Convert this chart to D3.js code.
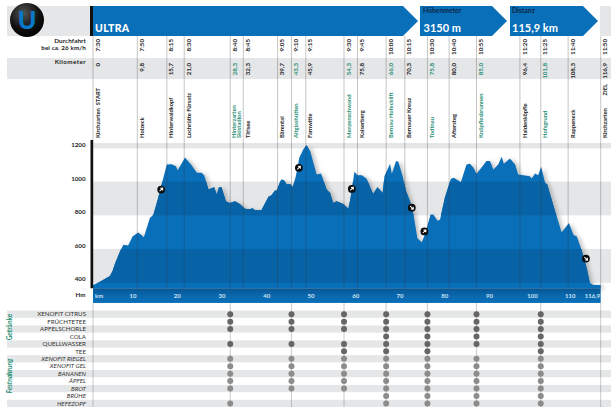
<!DOCTYPE html>
<html lang="de">
<head>
<meta charset="utf-8">
<title>Ultra Streckenprofil</title>
<script src="https://cdnjs.cloudflare.com/ajax/libs/d3/7.8.5/d3.min.js"></script>
<style>
  html,body{margin:0;padding:0;background:#fff}
  svg{display:block}
  text{font-family:Lato,"Open Sans",sans-serif;fill:#222}
</style>
</head>
<body>
<div id="chart"></div>
<script>
// profile: plotted km / metres
var profileKm = [0,1.6,3.9,4.5,5.1,6.2,7,8.1,9.1,10.4,11.1,11.7,13.1,13.9,15,15.8,17,18.1,19.1,19.5,21.2,22.7,23.9,25,25.6,26.6,27.9,28.5,29,29.6,30.6,31.5,32.7,33.8,35,36.1,36.7,37.3,38.8,40.4,41.1,41.9,42.3,43.3,44,44.6,45.4,46,46.7,47.5,48.4,49.2,50,51.5,52.5,53.8,54.6,55.3,56.1,57.6,58.8,59.3,60.2,60.9,61.9,63,64.5,65.5,66.7,67.1,68.4,68.8,69.8,70.3,71.3,72.1,73,73.8,74.7,75.7,76.4,77.7,78.4,79.3,79.9,81,82.4,83.1,84.7,86,86.8,87.6,88.3,89.5,90.6,91.4,92.2,93.3,94.1,94.6,96,97.2,97.9,100.6,101,101.8,102.5,103.2,104.1,104.6,106.4,107.9,109.6,110.6,111.4,112.5,113.7,114.4,115.2,116.9]
var profileHm = [362,382,416,446,492,562,602,598,652,676,662,648,762,782,882,962,1082,1084,1072,1048,1124,1078,1032,1032,1018,932,946,902,946,946,862,852,862,846,818,814,820,808,810,890,898,926,926,992,990,962,966,948,1012,1122,1172,1196,1162,1022,1028,932,912,852,862,846,818,882,1038,1018,1018,996,906,946,912,1012,1086,1026,1102,1098,1012,922,862,782,642,618,662,782,782,746,752,882,996,1002,976,1082,1086,1062,1026,1066,1102,1102,1052,1082,1128,1086,1118,1082,1022,1012,998,1028,1018,1068,972,962,802,678,732,662,652,572,462,376,362,362]

var stationNames = ["Kirchzarten  START","Holzeck","Hinterwaldkopf","Lochrütte Fürsatz","Hinterzarten|Skistadion","Titisee","Bärental","Altglashütten","Farnwitte","Menzenschwand","Kaiserberg","Bernau Hofecklift","Bernauer Kreuz","Todtnau","Aftersteg","Knöpflesbrunnen","Haldenköpfle","Hofsgrund","Rappeneck","Kirchzarten\u00a0\u00a0\u00a0\u00a0\u00a0\u00a0\u00a0\u00a0\u00a0ZIEL"]
var stationPos = [0,10.2,17,21,31.6,34.6,42.5,45.7,49,57.8,60.9,67.5,71.8,77,82,88.3,98.3,103.1,109.4,116.9]
var stationKm = ["0","9,8","15,7","21,0","28,3","32,3","39,7","43,3","45,9","54,3","75,8","66,0","70,3","75,8","80,0","85,0","96,4","101,8","108,3","116,9"]
var stationTime = ["7:30","7:50","8:15","8:30","8:40","8:45","9:05","9:10","9:15","9:30","9:45","10:00","10:15","10:30","10:40","10:55","11:20","11:25","11:40","11:50"]
var foodStations = [4,7,9,11,13,15,17]

var elevTicks = [1200,1000,800,600,400]
var elevBands = [[1178,1210],[778,980],[376,577]]
var kmLabels = ["km","10","20","30","40","50","60","70","80","90","100","110","116,9"]
var kmLabelPos = [1.4,9.2,19.4,29.7,40,50.2,60.5,70.7,81,91.3,101.2,109.9,115]

var arrowKm = [15.7,47.4,59.6,73.4,76.3,113.5]
var arrowHm = [932,1062,936,824,682,520]
var arrowDir = ["up","up","up","down","up","down"]

var drinks = ["XENOFIT CITRUS","FRÜCHTETEE","APFELSCHORLE","COLA","QUELLWASSER","TEE"]
var foods = ["XENOFIT RIEGEL","XENOFIT GEL","BANANEN","ÄPFEL","BROT","BRÜHE","HEFEZOPF"]
// for each row, which of the food stations have it (index into foodStations)
var rowStations = [
  [0,1,2,3,4,5,6],[0,1,2,3,4,5,6],[0,1,2,3,4,5,6],[3,4,5,6],[0,1,2,3,4,5,6],[2,3,4,6],
  [0,1,2,3,4,5,6],[0,1,2,3,4,5,6],[0,1,2,3,4,5,6],[0,1,2,3,4,5,6],[0,1,2,3,4,5,6],[3,4,5,6],[0,3,4,5,6]
]

var w = 615, h = 413
var blue = "#0a6fb9", darkBlue = "#0863a6", grey = "#e5e6e7", green = "#1f8f74"

var svg = d3.select("#chart").append("svg").attr("width",w).attr("height",h)
var defs = svg.append("defs")

var x = d3.scaleLinear().domain([0,116.9]).range([93,600.7])
var y = d3.scaleLinear().domain([400,1200]).range([278.7,144.7])
var baseHm = 343

var rows = drinks.concat(foods)
var rowY = d3.scalePoint().domain(rows).range([314.2,403.4])

// header
svg.append("rect").attr("x",7).attr("y",6).attr("width",83).attr("height",30).attr("fill",grey)
svg.append("rect").attr("x",90).attr("y",6).attr("width",3).attr("height",30).attr("fill","#111")
svg.append("rect").attr("x",600).attr("y",6).attr("width",11).attr("height",30).attr("fill",grey)
svg.append("rect").attr("x",7).attr("y",58).attr("width",604).attr("height",21).attr("fill",grey)

function banner(x0,x1,tip){
  svg.append("path").attr("fill",blue)
    .attr("d","M"+x0+",6H"+x1+"L"+tip+",21L"+x1+",36H"+x0+"Z")
}
banner(93,403,418)
banner(420,492,507)
banner(510,583,598)

svg.append("text").attr("x",95).attr("y",32).text("ULTRA")
  .style("font-size","10.5px").style("font-weight",900).style("fill","#fff").style("letter-spacing","0.3px")
svg.append("text").attr("x",423.5).attr("y",32).text("3150 m")
  .style("font-size","11px").style("font-weight",700).style("fill","#fff")
svg.append("text").attr("x",512).attr("y",32).text("115,9 km")
  .style("font-size","11px").style("font-weight",700).style("fill","#fff")
svg.append("text").attr("x",423).attr("y",12.5).text("Höhenmeter")
  .style("font-size","6.8px").style("font-weight",700).style("fill","#0b2545")
svg.append("text").attr("x",512).attr("y",12.5).text("Distanz")
  .style("font-size","6.8px").style("font-weight",700).style("fill","#0b2545")

// logo
var glow = defs.append("radialGradient").attr("id","logoFill").attr("cx","40%").attr("cy","30%").attr("r","75%")
glow.append("stop").attr("offset","0%").attr("stop-color","#555")
glow.append("stop").attr("offset","60%").attr("stop-color","#111")
glow.append("stop").attr("offset","100%").attr("stop-color","#000")
svg.append("circle").attr("cx",27).attr("cy",20).attr("r",17).attr("fill","url(#logoFill)")
svg.append("text").attr("x",27).attr("y",28.5).attr("text-anchor","middle").text("U")
  .style("font-size","25px").style("font-weight",900).style("fill","#0a78c8")

// row captions
svg.append("text").attr("x",86).attr("y",43).attr("text-anchor","end").text("Durchfahrt")
  .style("font-size","6.3px").style("font-weight",700).style("letter-spacing","0.1px")
svg.append("text").attr("x",86).attr("y",50).attr("text-anchor","end").text("bei ca. 26 km/h")
  .style("font-size","6.3px").style("font-weight",700).style("letter-spacing","0.1px")
svg.append("text").attr("x",86).attr("y",64).attr("text-anchor","end").text("Kilometer")
  .style("font-size","6.3px").style("font-weight",700).style("letter-spacing","0.4px")

// elevation bands
svg.selectAll(".band").data(elevBands).enter().append("rect")
  .attr("x",x(0)).attr("width",611-x(0))
  .attr("y",function(d){return y(d[1])})
  .attr("height",function(d){return y(d[0])-y(d[1])})
  .attr("fill",grey)

// profile
var points = profileKm.map(function(k,i){return {km:k,hm:profileHm[i]}})
var area = d3.area().x(function(d){return x(d.km)}).y0(y(baseHm)).y1(function(d){return y(d.hm)})
var blur = defs.append("filter").attr("id","shade").attr("x","-5%").attr("y","-5%").attr("width","110%").attr("height","110%")
blur.append("feGaussianBlur").attr("stdDeviation",2)
svg.append("path").datum(points).attr("d",area).attr("fill","#555").attr("opacity",0.35)
  .attr("transform","translate(3,1)").attr("filter","url(#shade)")
svg.append("path").datum(points).attr("d",area).attr("fill",blue)
defs.append("clipPath").attr("id","profileClip").append("path").datum(points).attr("d",area)
svg.append("g").attr("clip-path","url(#profileClip)")
  .selectAll("rect").data(elevBands).enter().append("rect")
  .attr("x",x(0)).attr("width",x(116.9)-x(0))
  .attr("y",function(d){return y(d[1])})
  .attr("height",function(d){return y(d[0])-y(d[1])})
  .attr("fill",darkBlue)

// km bar
var barGrad = defs.append("linearGradient").attr("id","barFill").attr("x1",0).attr("x2",0).attr("y1",0).attr("y2",1)
barGrad.append("stop").attr("offset","0%").attr("stop-color","#075794")
barGrad.append("stop").attr("offset","55%").attr("stop-color","#0a69af")
barGrad.append("stop").attr("offset","100%").attr("stop-color",blue)
svg.append("rect").attr("x",x(0)).attr("width",x(116.9)-x(0)).attr("y",y(baseHm)).attr("height",14.7).attr("fill","url(#barFill)")

// food rows
svg.selectAll(".rowBg").data(rows.filter(function(d,i){return i%2==0})).enter().append("rect")
  .attr("x",7).attr("width",604).attr("y",function(d){return rowY(d)-3.6}).attr("height",7.2).attr("fill",grey)

// station lines
svg.selectAll(".stationLine").data(stationPos).enter().append("line")
  .attr("x1",function(d){return x(d)}).attr("x2",function(d){return x(d)})
  .attr("y1",36).attr("y2",y(baseHm))
  .attr("stroke","#333").attr("stroke-opacity",0.28).attr("stroke-width",1)
var lowerLines = foodStations.concat([0,19])
svg.selectAll(".lowerLine").data(lowerLines).enter().append("line")
  .attr("x1",function(d){return x(stationPos[d])}).attr("x2",function(d){return x(stationPos[d])})
  .attr("y1",y(baseHm)+14.7).attr("y2",407)
  .attr("stroke","#333").attr("stroke-opacity",0.25).attr("stroke-width",1)

// black left edge of the plot
svg.append("rect").attr("x",90.5).attr("width",2.6).attr("y",140).attr("height",y(baseHm)-140).attr("fill","#111")

// rotated station columns
function isGreen(i){return foodStations.indexOf(i)>=0}
function column(values,yPos,green_ok){
  svg.selectAll(null).data(values).enter().append("text")
    .attr("transform",function(d,i){return "translate("+(x(stationPos[i])+6.6)+","+yPos+") rotate(-90)"})
    .attr("text-anchor","end")
    .style("font-size","6.2px").style("font-weight",700)
    .style("fill",function(d,i){return green_ok && isGreen(i)?green:"#222"})
    .text(function(d){return d})
}
column(stationTime,39,false)
column(stationKm,63,true)

var names = svg.selectAll(".name").data(stationNames).enter().append("text")
  .attr("transform",function(d,i){return "translate("+(x(stationPos[i])+6.6)+",138) rotate(-90)"})
  .style("font-size","5.8px").style("font-weight",700)
  .style("fill",function(d,i){return isGreen(i)?green:"#222"})
  .style("white-space","pre")
names.each(function(d){
  var parts = d.split("|"), sel = d3.select(this)
  parts.forEach(function(p,j){
    sel.append("tspan").attr("x",0).attr("y",parts.length>1?j*5.6-1.2:0).text(p)
  })
})

// axes
var elevAxis = d3.axisLeft(y).tickValues(elevTicks).tickSize(0).tickPadding(0).tickFormat(function(d){return d})
var elevG = svg.append("g").attr("transform","translate(85.5,0)").call(elevAxis)
elevG.select(".domain").remove()
elevG.selectAll("text").style("font-size","6.2px").style("font-weight",700).style("font-family","Lato").style("fill","#222")
svg.append("text").attr("x",85.5).attr("y",297).attr("text-anchor","end").text("Hm")
  .style("font-size","6.2px").style("font-weight",700)

svg.selectAll(".kmLabel").data(kmLabels).enter().append("text")
  .attr("x",function(d,i){return x(kmLabelPos[i])}).attr("y",297.5)
  .attr("text-anchor","middle").text(function(d){return d})
  .style("font-size","6px").style("font-weight",700).style("fill","#cfe3f3")

// arrows
var arrowData = arrowKm.map(function(k,i){return {km:k,hm:arrowHm[i],dir:arrowDir[i]}})
var arrows = svg.selectAll(".arrow").data(arrowData).enter().append("g")
  .attr("transform",function(d){return "translate("+x(d.km)+","+y(d.hm)+")"})
arrows.append("circle").attr("r",3.9).attr("fill","#0c0c0c")
arrows.append("path").attr("d","M-2.2,0H1.9M0.4,-1.6L2.2,0L0.4,1.6")
  .attr("fill","none").attr("stroke","#fff").attr("stroke-width",1)
  .attr("transform",function(d){return d.dir=="up"?"rotate(-45)":"rotate(45)"})

// food table
svg.selectAll(".rowLabel").data(rows).enter().append("text")
  .attr("x",86).attr("y",function(d){return rowY(d)+2.2}).attr("text-anchor","end")
  .text(function(d){return d})
  .style("font-size","6.2px").style("font-weight",400).style("fill","#333")
  .style("font-style",function(d){return foods.indexOf(d)>=0?"italic":"normal"})

rows.forEach(function(r,i){
  svg.selectAll(null).data(rowStations[i]).enter().append("circle")
    .attr("cx",function(d){return x(stationPos[foodStations[d]])})
    .attr("cy",rowY(r)).attr("r",3)
    .attr("fill",drinks.indexOf(r)>=0?"#666":"#8c8c8c")
})

svg.append("text").attr("transform","translate(12,327) rotate(-90)").attr("text-anchor","middle").text("Getränke")
  .style("font-size","6.5px").style("font-weight",700).style("fill",green)
svg.append("text").attr("transform","translate(12,376) rotate(-90)").attr("text-anchor","middle").text("Festnahrung")
  .style("font-size","6.5px").style("font-weight",700).style("font-style","italic").style("fill",green)
</script>
</body>
</html>
